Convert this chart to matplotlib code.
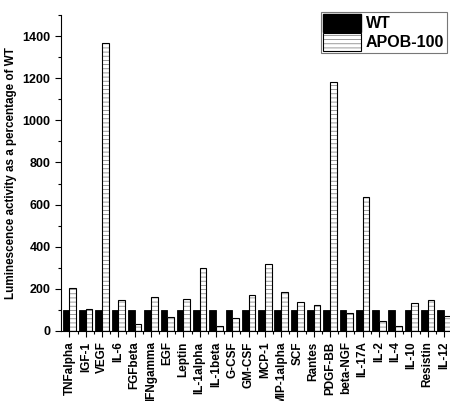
import numpy as np
import matplotlib
matplotlib.use("Agg")
import matplotlib.pyplot as plt
from matplotlib.patches import Patch

plt.rcParams['font.family'] = ['Liberation Sans', 'DejaVu Sans']
plt.rcParams['font.weight'] = 'bold'
plt.rcParams['hatch.linewidth'] = 0.6

cytokines = ["TNFalpha", "IGF-1", "VEGF", "IL-6", "FGFbeta", "IFNgamma", "EGF",
             "Leptin", "IL-1alpha", "IL-1beta", "G-CSF", "GM-CSF", "MCP-1",
             "MIP-1alpha", "SCF", "Rantes", "PDGF-BB", "beta-NGF", "IL-17A",
             "IL-2", "IL-4", "IL-10", "Resistin", "IL-12"]
wt = [100] * 24
apob = [205, 106, 1365, 147, 33, 163, 65, 152, 297, 24, 60, 169, 318,
        184, 139, 123, 1182, 87, 636, 47, 24, 131, 147, 71]

hatch_col = '#8a8a8a'

fig = plt.figure(figsize=(4.5, 4.01), dpi=100)
ax = fig.add_axes([0.1356, 0.1746, 0.8644, 0.788])

x = np.arange(len(cytokines))
w = 0.41
ax.bar(x - w / 2, wt, w, color='black', edgecolor='black', linewidth=0.6)
# hatched fill in grey, then black outline on top
ax.bar(x + w / 2, apob, w, color='white', edgecolor=hatch_col, linewidth=0, hatch='----')
ax.bar(x + w / 2, apob, w, fill=False, edgecolor='black', linewidth=0.8)

ax.set_xlim(-0.52, 23.37)
ax.set_ylim(0, 1500)
ax.set_yticks(range(0, 1401, 200))
ax.set_yticks(range(0, 1501, 100), minor=True)
ax.set_xticks(x)
ax.set_xticks(x[:-1] + 0.5, minor=True)
ax.set_xticklabels(cytokines, rotation=90, fontsize=8.5, fontweight='bold')
for lab in ax.get_yticklabels():
    lab.set_fontsize(9)
    lab.set_fontweight('bold')
ax.tick_params(axis='both', which='major', length=4, width=0.8)
ax.tick_params(axis='both', which='minor', length=2.5, width=0.8)
ax.spines['top'].set_visible(False)
ax.spines['right'].set_visible(False)
ax.set_ylabel("Luminescence activity as a percentage of WT", fontsize=8.4, fontweight='bold')
ax.yaxis.set_label_coords(-0.113, 0.5)

h_wt = Patch(facecolor='black', edgecolor='black')
h_apob = (Patch(facecolor='white', edgecolor=hatch_col, hatch='----', linewidth=0),
          Patch(fill=False, edgecolor='black', linewidth=0.8))
leg = ax.legend([h_wt, h_apob], ['WT', 'APOB-100'], loc='upper right', bbox_to_anchor=(1.0, 1.02),
                prop={'weight': 'bold', 'size': 11.5}, fancybox=False,
                handlelength=2.4, handleheight=1.3, handletextpad=0.3,
                borderpad=0.15, labelspacing=0.1, borderaxespad=0.2)
leg.get_frame().set_edgecolor('#555555')
leg.get_frame().set_linewidth(0.8)

fig.savefig("out.png", dpi=100)
